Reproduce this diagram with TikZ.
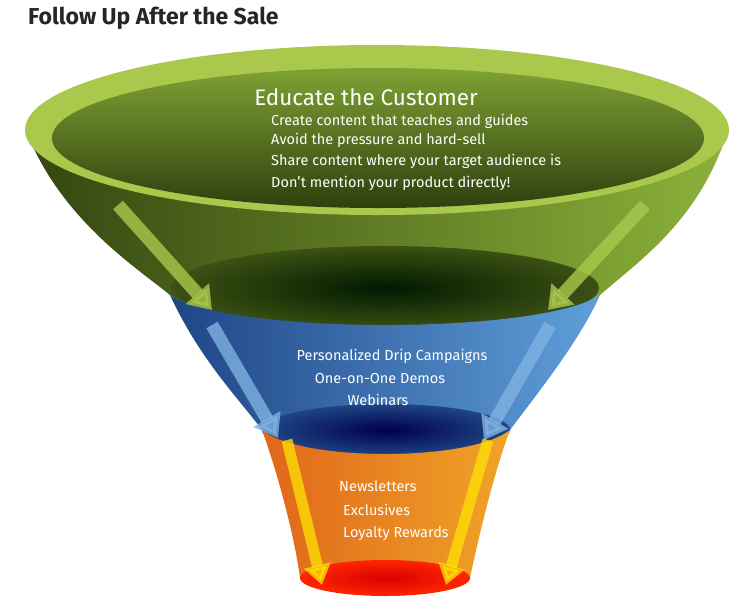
\documentclass[tikz,border=0pt]{standalone}
\usepackage{fontspec}
\setmainfont{Fira Sans}
\usetikzlibrary{arrows.meta}
\definecolor{rim}{HTML}{A9C84C}
\definecolor{gdark}{HTML}{33460F}
\definecolor{glight}{HTML}{8CB23A}
\definecolor{bdark}{HTML}{1F4585}
\definecolor{blight}{HTML}{5F9FDB}
\definecolor{odark}{HTML}{E0661A}
\definecolor{olight}{HTML}{F0A428}
\tikzset{
 txt/.style={text=white,font=\fontsize{14.5}{16}\selectfont,inner sep=0pt},
 garrow/.style={line width=13pt,draw=rim,opacity=0.8,-{Triangle[length=22pt,width=30pt]}},
 barrow/.style={line width=13pt,draw=blight!80!white,opacity=0.8,-{Triangle[length=22pt,width=30pt]}},
 yarrow/.style={line width=11pt,draw=yellow!85!orange,opacity=0.75,-{Triangle[length=20pt,width=26pt]}}
}
\begin{document}
\begin{tikzpicture}[x=1pt,y=-1pt]
\useasboundingbox[fill=white] (0,0) rectangle (738,611);
\node[anchor=west,font=\bfseries\fontsize{23}{26}\selectfont,text=black!85,inner sep=0pt] (title) at (28,18) {Follow Up After the Sale};
% green body
\path[left color=gdark,right color=glight] (26,130) .. controls (60,220) and (140,270) .. (170,295)
  .. controls (230,335) and (540,335) .. (600,295) .. controls (640,260) and (700,220) .. (728,130) -- cycle;
\path[inner color=black!90!green,outer color=gdark!90!glight] (385,288) ellipse [x radius=214, y radius=42];
% blue band
\path[left color=bdark,right color=blight] (170,295) .. controls (200,360) and (240,400) .. (262,430)
  .. controls (300,462) and (470,462) .. (510,430) .. controls (540,390) and (580,340) .. (600,295)
  .. controls (540,335) and (230,335) .. (170,295) -- cycle;
\path[inner color=black!70!blue,outer color=bdark] (386,430) ellipse [x radius=124, y radius=26];
% orange band
\path[left color=odark,right color=olight] (262,430) .. controls (280,480) and (295,540) .. (300,578)
  .. controls (330,600) and (440,600) .. (470,578) .. controls (480,530) and (495,470) .. (510,430)
  .. controls (470,462) and (300,462) .. (262,430) -- cycle;
\path[inner color=red!85!black,outer color=red!70!orange] (385,578) ellipse [x radius=85, y radius=18];
% top rim
\path[fill=rim] (377,130) ellipse [x radius=352, y radius=85];
\path[top color=glight!85!gdark,bottom color=gdark!90!black] (378,138) ellipse [x radius=326, y radius=70];
% arrows
\draw[garrow] (118,205) -- (212,310);
\draw[garrow] (645,205) -- (548,310);
\draw[barrow] (212,325) -- (278,438);
\draw[barrow] (550,325) -- (484,440);
\draw[yarrow] (287,440) -- (322,585);
\draw[yarrow] (488,440) -- (446,585);
% text
\node[txt,font=\fontsize{22.5}{26}\selectfont] (t0) at (366,97) {Educate the Customer};
\node[txt,anchor=west] (t1) at (271,121) {Create content that teaches and guides};
\node[txt,anchor=west] (t2) at (271,140) {Avoid the pressure and hard-sell};
\node[txt,anchor=west] (t3) at (271,161) {Share content where your target audience is};
\node[txt,anchor=west] (t4) at (271,183) {Don’t mention your product directly!};
\node[txt] (b1) at (392,356) {Personalized Drip Campaigns};
\node[txt] (b2) at (380,378) {One-on-One Demos};
\node[txt] (b3) at (378,400) {Webinars};
\node[txt,anchor=west] (o1) at (339,486) {Newsletters};
\node[txt,anchor=west] (o2) at (343,510) {Exclusives};
\node[txt,anchor=west] (o3) at (343,534) {Loyalty Rewards};
\end{tikzpicture}
\end{document}
